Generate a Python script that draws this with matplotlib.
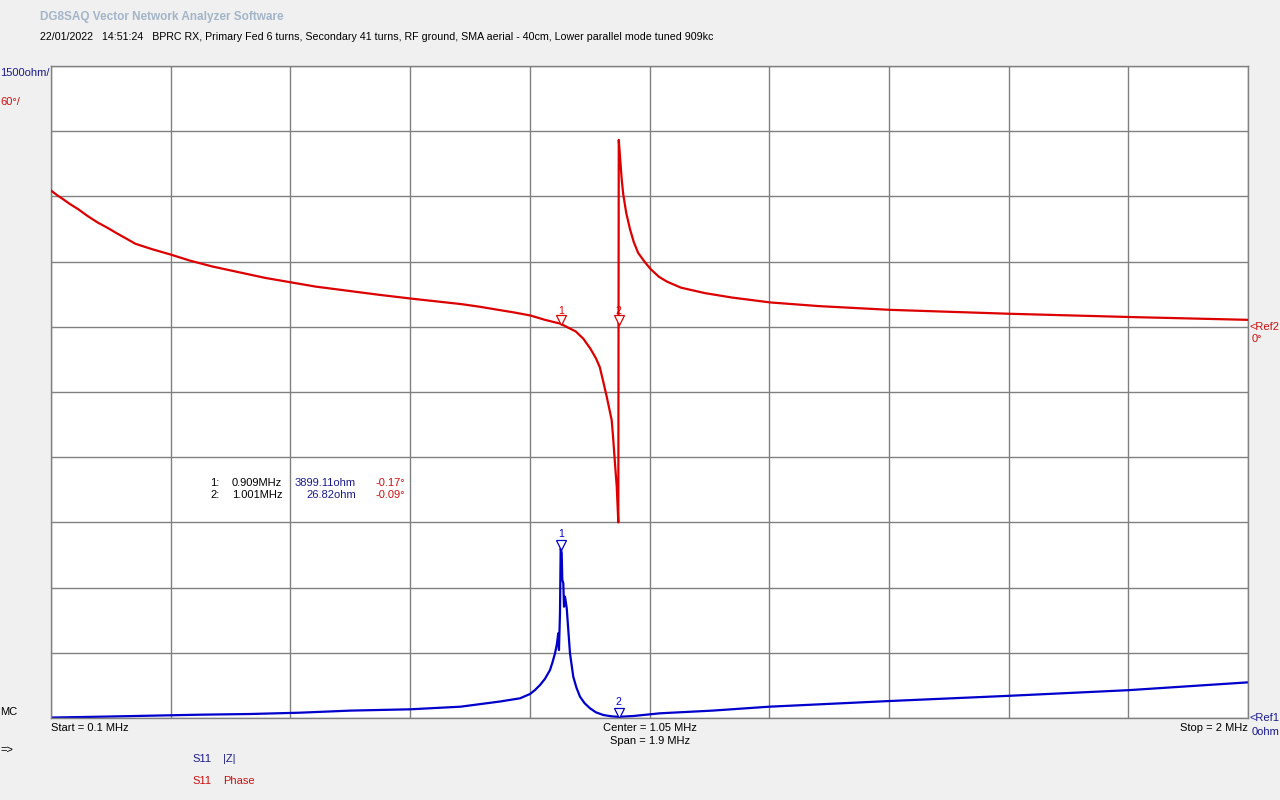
import numpy as np
import matplotlib
matplotlib.use("Agg")
import matplotlib.pyplot as plt
import matplotlib.transforms as mtransforms

# ---------------- data ----------------
# S11 phase trace (degrees) vs frequency (MHz)
phase_freq = [0.100, 0.110, 0.119, 0.130, 0.143, 0.158, 0.174, 0.190, 0.204, 0.220,
              0.234, 0.260, 0.291, 0.320, 0.356, 0.400, 0.440, 0.482, 0.520, 0.568,
              0.620, 0.671, 0.710, 0.751, 0.780, 0.810, 0.835, 0.861, 0.884, 0.909,
              0.920, 0.933, 0.945, 0.956, 0.965, 0.971, 0.976, 0.982, 0.986, 0.990,
              0.992, 0.994, 0.996, 0.998, 1.0005, 1.0012, 1.0025, 1.0043, 1.0060, 1.0083,
              1.0130, 1.0190, 1.0250, 1.0320, 1.0420, 1.0520, 1.0650, 1.0780, 1.1000, 1.1380,
              1.1800, 1.2420, 1.3200, 1.4320, 1.6210, 1.8120, 2.0000]
phase_deg = [125.4, 121.0, 117.5, 113.0, 108.3, 102.0, 96.0, 91.0, 86.2, 81.0,
             76.4, 71.5, 66.3, 61.0, 55.5, 50.0, 45.0, 40.8, 37.0, 33.4,
             29.5, 26.0, 23.5, 20.9, 18.5, 15.6, 13.2, 10.4, 6.4, 2.8,
             -0.5, -4.3, -11.0, -20.0, -29.0, -37.0, -49.0, -64.0, -75.0, -86.0,
             -100.0, -116.0, -132.0, -147.0, -180.0, 172.0, 162.0, 148.0, 135.0, 122.0,
             105.0, 90.0, 78.0, 68.0, 60.0, 53.0, 46.0, 41.5, 36.0, 31.0,
             27.0, 22.4, 19.0, 15.6, 12.0, 9.0, 6.4]

# S11 |Z| trace (ohm) vs frequency (MHz)
z_freq = [0.100, 0.178, 0.257, 0.336, 0.416, 0.495, 0.575, 0.670, 0.750, 0.813,
          0.8444, 0.852, 0.8603, 0.868, 0.8762, 0.884, 0.8921, 0.896, 0.900, 0.903,
          0.9052, 0.9063, 0.9079, 0.909, 0.9106, 0.9116, 0.9132, 0.9143, 0.9159, 0.9186,
          0.9211, 0.9238, 0.929, 0.934, 0.9397, 0.947, 0.9556, 0.965, 0.9767, 0.990,
          1.001, 1.0243, 1.0667, 1.150, 1.240, 1.430, 1.620, 1.810, 2.000]
z_ohm = [10, 30, 53, 76, 92, 122, 170, 200, 260, 380,
         453, 500, 552, 640, 759, 900, 1104, 1280, 1488, 1700,
         1950, 1564, 2415, 3899, 3800, 3175, 3100, 2560, 2790, 2530,
         2025, 1488, 950, 700, 490, 340, 223, 130, 69, 38,
         26.82, 46, 108, 170, 260, 390, 510, 640, 820]

# markers
marker_ids = ["1", "2"]
marker_freq = [0.909, 1.001]
marker_z = [3899.11, 26.82]
marker_phase = [-0.17, -0.09]
marker_freq_lbl = ["0.909MHz", "1.001MHz"]
marker_z_lbl = ["3899.11ohm", "26.82ohm"]
marker_ph_lbl = ["-0.17°", "-0.09°"]

# axis settings
f_start, f_stop = 0.1, 2.0
z_per_div = 1500
ph_per_div = 60
ph_ref_div = 6   # 0° is 6 divisions above the bottom

# ---------------- drawing ----------------
W, H = 1280, 800
BG = "#f0f0f0"
GRID = "#808080"
RED = "#dd0000"
BLUE = "#0000cc"
TXT_BLUE = "#1a1a8c"
TXT_RED = "#cc1010"
FONT = "Liberation Sans"

fig = plt.figure(figsize=(W / 100, H / 100), dpi=100, facecolor=BG)
L, R, T, B = 51, 1248, 66, 718
ax = fig.add_axes([L / W, 1 - B / H, (R - L) / W, (B - T) / H])
ax.set_facecolor("white")
ax.set_xlim(f_start, f_stop)
ax.set_ylim(0, 10 * z_per_div)
ax.set_xticks(np.linspace(f_start, f_stop, 11))
ax.set_yticks(np.linspace(0, 10 * z_per_div, 11))
ax.grid(True, color=GRID, lw=1.0)
ax.tick_params(length=0, labelbottom=False, labelleft=False)
for s in ax.spines.values():
    s.set_color(GRID)
    s.set_linewidth(1.0)

ax2 = ax.twinx()
ax2.set_ylim(-ph_ref_div * ph_per_div, (10 - ph_ref_div) * ph_per_div)
ax2.set_yticks([])
ax2.tick_params(length=0, labelright=False)
for s in ax2.spines.values():
    s.set_visible(False)

ax.plot(z_freq, z_ohm, color=BLUE, lw=1.6, solid_joinstyle="round")
ax2.plot(phase_freq, phase_deg, color=RED, lw=1.6, solid_joinstyle="round")

# markers: open down-triangles with numbers above
up4 = mtransforms.ScaledTranslation(0, 4 / 100, fig.dpi_scale_trans)
up7 = mtransforms.ScaledTranslation(0, 7 / 100, fig.dpi_scale_trans)
for mid, mf, mz, mp in zip(marker_ids, marker_freq, marker_z, marker_phase):
    ax.plot([mf], [mz], marker="v", ms=6.5, mfc="white", mec=BLUE, mew=0.9,
            transform=ax.transData + up4)
    ax.annotate(mid, (mf, mz), xytext=(0, 10), textcoords="offset pixels",
                ha="center", va="bottom", fontsize=7.5, color=BLUE, family=FONT)
    ax2.plot([mf], [mp], marker="v", ms=6.5, mfc="white", mec=RED, mew=0.9,
             transform=ax2.transData + up7)
    ax2.annotate(mid, (mf, mp), xytext=(0, 11), textcoords="offset pixels",
                 ha="center", va="bottom", fontsize=7.5, color=RED, family=FONT)


def txt(x, y, s, color="black", ha="left", size=8, **kw):
    fig.text(x / W, 1 - y / H, s, color=color, ha=ha, va="center",
             fontsize=size, family=FONT, **kw)


txt(40, 17, "DG8SAQ Vector Network Analyzer Software", color="#a3b5c8", size=8.5, weight="bold")
txt(40, 37, "22/01/2022   14:51:24   BPRC RX, Primary Fed 6 turns, Secondary 41 turns, "
            "RF ground, SMA aerial - 40cm, Lower parallel mode tuned 909kc", size=7.7)
txt(0, 73, "%dohm/" % z_per_div, color=TXT_BLUE)
txt(0, 102, "%d°/" % ph_per_div, color=TXT_RED)
txt(1250, 327, "<Ref2", color=TXT_RED, size=8)
txt(1252, 339, "0°", color=TXT_RED, size=8)
txt(1250, 718, "<Ref1", color=TXT_BLUE, size=8)
txt(1252, 732, "0ohm", color=TXT_BLUE, size=8)
txt(0, 712, "MC")
txt(0, 750, "=>")
txt(51, 728, "Start = %g MHz" % f_start)
txt(650, 728, "Center = %g MHz" % ((f_start + f_stop) / 2), ha="center")
txt(650, 741, "Span = %g MHz" % (f_stop - f_start), ha="center")
txt(1248, 728, "Stop = %g MHz" % f_stop, ha="right")
txt(192, 759, "S11", color=TXT_BLUE)
txt(223, 759, "|Z|", color=TXT_BLUE)
txt(192, 781, "S11", color=TXT_RED)
txt(223, 781, "Phase", color=TXT_RED)

for i, (mid, fl, zl, pl) in enumerate(zip(marker_ids, marker_freq_lbl, marker_z_lbl, marker_ph_lbl)):
    y = 483 + i * 12
    txt(210, y, mid + ":")
    txt(232, y, fl)
    txt(356, y, zl, color=TXT_BLUE, ha="right")
    txt(405, y, pl, color=TXT_RED, ha="right")

fig.savefig("out.png", dpi=100, facecolor=BG)
